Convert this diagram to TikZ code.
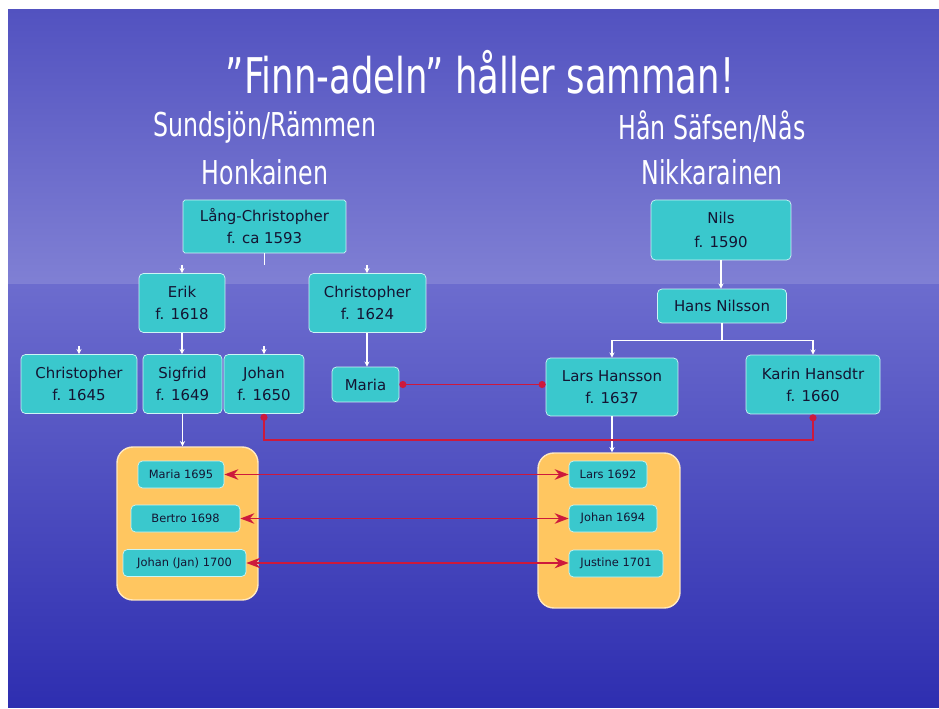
\documentclass[tikz,border=0pt]{standalone}
\usepackage{fontspec}
\setmainfont{DejaVu Sans}
\newfontfamily\headfont[FakeStretch=0.72]{DejaVu Sans}
\usepackage{tikz}
\usetikzlibrary{arrows.meta}
\definecolor{boxteal}{RGB}{58,200,205}
\definecolor{boxedge}{RGB}{205,245,245}
\definecolor{famorange}{RGB}{255,198,96}
\definecolor{linkred}{RGB}{205,25,60}
\definecolor{skytop}{RGB}{82,82,192}
\definecolor{skylow}{RGB}{128,128,212}
\definecolor{seatop}{RGB}{108,108,206}
\definecolor{seabot}{RGB}{46,46,176}
\definecolor{inktext}{RGB}{20,20,50}

\begin{document}
\begin{tikzpicture}[x=0.02cm, y=-0.02cm, >=Stealth,
	person/.style={draw=boxedge, fill=boxteal, rounded corners=2.5pt, align=center, inner sep=0pt, text=inktext, minimum height=1.18cm, font=\fontsize{8.5}{12.5}\selectfont},
	kid/.style={person, minimum height=0.54cm, font=\fontsize{6.5}{8}\selectfont},
	family/.style={draw=white!60!famorange, fill=famorange, rounded corners=9pt, line width=0.8pt},
	tree/.style={draw=white, line width=0.6pt, -{Stealth[length=3pt,width=3pt]}},
	link/.style={draw=linkred, line width=1.1pt},
	heading/.style={text=white, font=\headfont\fontsize{18.7}{20}\selectfont}]

	\useasboundingbox (0,0) rectangle (939,709);
	\fill[white] (0,0) rectangle (939,709);
	\shade[top color=skytop, bottom color=skylow] (8,10) rectangle (939,285);
	\shade[top color=seatop, bottom color=seabot] (8,285) rectangle (939,707);

	\node[heading, font=\headfont\fontsize{28}{30}\selectfont] (title) at (480,72) {”Finn-adeln” håller samman!};
	\node[heading] (ortL) at (265,127) {Sundsjön/Rämmen};
	\node[heading] (slaktL) at (265,172) {Honkainen};
	\node[heading] (ortR) at (712,127) {Hån Säfsen/Nås};
	\node[heading] (slaktR) at (712,172) {Nikkarainen};

	\node[person, rounded corners=1pt, minimum width=3.26cm, minimum height=1.06cm] (lang) at (264.5,226.5) {Lång-Christopher\\f. ca 1593};
	\node[person, minimum width=1.72cm] (erik) at (182,303) {Erik\\f. 1618};
	\node[person, minimum width=2.34cm] (chrb) at (367.5,303) {Christopher\\f. 1624};
	\node[person, minimum width=2.32cm] (chrc) at (79,384) {Christopher\\f. 1645};
	\node[person, minimum width=1.58cm] (sigfrid) at (182.5,384) {Sigfrid\\f. 1649};
	\node[person, minimum width=1.6cm] (johan) at (264,384) {Johan\\f. 1650};
	\node[person, minimum width=1.34cm, minimum height=0.7cm] (maria) at (365.5,384.5) {Maria};

	\node[person, minimum width=2.8cm, minimum height=1.2cm, font=\fontsize{8.5}{14}\selectfont] (nils) at (721,230) {Nils\\f. 1590};
	\node[person, minimum width=2.58cm, minimum height=0.68cm] (hans) at (722,306) {Hans Nilsson};
	\node[person, minimum width=2.64cm, minimum height=1.16cm] (lars) at (612,387) {Lars Hansson\\f. 1637};
	\node[person, minimum width=2.68cm] (karin) at (813,384.5) {Karin Hansdtr\\f. 1660};

	\node[family, minimum width=2.82cm, minimum height=3.06cm] (famL) at (187.5,523.5) {};
	\node[family, minimum width=2.84cm, minimum height=3.1cm] (famR) at (609,530.5) {};

	\node[kid, minimum width=1.72cm] (maria95) at (181,474.5) {Maria 1695};
	\node[kid, minimum width=2.18cm] (bertro) at (185.5,518.5) {Bertro 1698};
	\node[kid, minimum width=2.46cm] (jan) at (184.5,563) {Johan (Jan) 1700};
	\node[kid, minimum width=1.56cm] (lars92) at (608,474.5) {Lars 1692};
	\node[kid, minimum width=1.76cm] (johan94) at (613,518.5) {Johan 1694};
	\node[kid, minimum width=1.88cm] (justine) at (616,563.5) {Justine 1701};

	\coordinate (erikin) at (182,265);
	\coordinate (chrbin) at (367,265);
	\coordinate (chrcin) at (79,346);
	\coordinate (johanin) at (264,346);

	\draw[white, line width=0.6pt] (lang.south) -- ++(0,12);
	\draw[tree] (erikin) -- (erik.north);
	\draw[tree] (chrbin) -- (chrbin |- chrb.north);
	\draw[tree] (chrcin) -- (chrc.north);
	\draw[tree] (johanin) -- (johan.north);
	\draw[tree] (erik.south) -- (erik.south |- sigfrid.north);
	\draw[tree] (chrbin |- chrb.south) -- (chrbin |- maria.north);
	\draw[tree] (sigfrid.south) -- (sigfrid.south |- famL.north);
	\draw[tree] (nils.south) -- (nils.south |- hans.north);
	\draw[tree] (hans.south) -- ++(0,17) -| (lars.north);
	\draw[tree] (hans.south) -- ++(0,17) -| (karin.north);
	\draw[tree] (lars.south) -- (lars.south |- famR.north);

	\draw[link, {Circle[length=4pt]}-{Circle[length=4pt]}] (maria.east) -- (maria.east -| lars.west);
	\draw[link, {Circle[length=4pt]}-{Circle[length=4pt]}] (johan.south) -- ++(0,26) -| (karin.south);
	\draw[link, <->] (maria95.east) -- (maria95.east -| lars92.west);
	\draw[link, <->] (bertro.east) -- (bertro.east -| johan94.west);
	\draw[link, <->] (jan.east) -- (jan.east -| justine.west);
\end{tikzpicture}
\end{document}
